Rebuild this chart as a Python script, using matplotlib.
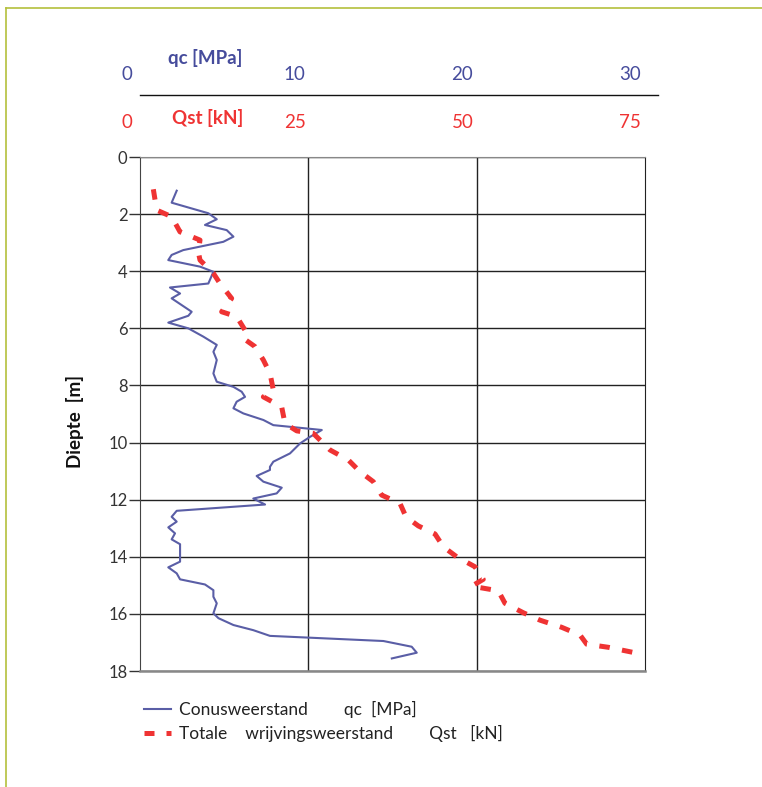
import numpy as np
import matplotlib
matplotlib.use('Agg')
import matplotlib.pyplot as plt
from matplotlib.lines import Line2D
from matplotlib.transforms import blended_transform_factory

plt.rcParams['font.family'] = ['Lato', 'DejaVu Sans']

# conusweerstand qc [MPa] vs diepte [m]
qc_values = [2.18, 1.88, 4.06, 4.56, 3.86, 5.15, 5.55, 4.95, 2.57, 1.88, 1.68, 3.57,
             4.36, 4.06, 1.78, 2.38, 1.88, 3.07, 2.87, 1.68, 2.87, 3.76, 4.56, 4.36,
             4.56, 4.36, 4.56, 5.55, 6.04, 6.24, 5.74, 5.55, 6.14, 7.33, 7.92, 10.80,
             10.10, 9.51, 8.91, 7.92, 7.72, 7.72, 6.93, 7.33, 8.42, 8.12, 6.73, 7.43,
             2.18, 1.88, 2.18, 1.68, 2.08, 1.88, 2.38, 2.38, 1.68, 2.18, 2.38, 3.86,
             4.36, 4.36, 4.56, 4.36, 4.66, 5.55, 6.73, 7.72, 14.46, 16.14, 16.44, 14.96]
qc_depth = [1.18, 1.60, 1.97, 2.18, 2.38, 2.56, 2.79, 2.97, 3.26, 3.43, 3.61, 3.84,
            4.02, 4.43, 4.57, 4.78, 4.95, 5.42, 5.56, 5.80, 6.00, 6.29, 6.58, 6.82,
            7.11, 7.58, 7.87, 8.05, 8.22, 8.40, 8.57, 8.80, 8.98, 9.21, 9.39, 9.56,
            9.80, 10.03, 10.38, 10.67, 10.85, 10.96, 11.17, 11.37, 11.58, 11.78, 11.96, 12.17,
            12.39, 12.60, 12.77, 12.97, 13.18, 13.39, 13.56, 14.17, 14.37, 14.58, 14.79, 14.97,
            15.17, 15.40, 15.63, 15.98, 16.15, 16.39, 16.57, 16.77, 16.95, 17.15, 17.36, 17.56]

# totale wrijvingsweerstand Qst [kN] vs diepte [m]
qst_values = [1.98, 2.48, 4.70, 5.94, 8.91, 8.66, 8.91, 10.89, 11.88, 13.61, 12.13, 14.36,
              15.59, 15.35, 17.08, 18.32, 19.31, 19.80, 18.32, 21.04, 21.53, 23.27, 25.74, 26.98,
              28.22, 30.94, 32.67, 34.65, 35.89, 38.61, 39.50, 41.34, 43.81, 45.05, 47.03, 49.75,
              50.98, 49.26, 53.21, 54.21, 56.93, 59.41, 62.63, 65.35, 66.34, 69.55, 73.27, 74.30]
qst_depth = [1.13, 1.86, 2.09, 2.62, 2.91, 3.32, 3.61, 4.07, 4.43, 4.95, 5.42, 5.59,
             6.06, 6.35, 6.64, 7.11, 7.58, 8.16, 8.40, 8.75, 9.33, 9.59, 9.68, 9.97,
             10.26, 10.61, 11.02, 11.37, 11.84, 12.13, 12.60, 12.92, 13.20, 13.65, 14.00, 14.35,
             14.79, 15.03, 15.19, 15.63, 15.96, 16.22, 16.47, 16.74, 17.06, 17.17, 17.35, 17.38]

qc_ticks = [0, 10, 20, 30]
qst_ticks = [0, 25, 50, 75]
depth_ticks = np.arange(0, 19, 2)

blue = '#5A5EA6'
blue_txt = '#464C9C'
red = '#EF3333'
W, H = 762, 787

fig = plt.figure(figsize=(W / 100, H / 100), dpi=100)
ax = fig.add_axes([140 / W, 1 - 671 / H, 505 / W, 514 / H])

ax.set_xlim(0, 30)
ax.set_ylim(18, 0)
ax.set_xticks([10, 20])
ax.set_yticks(depth_ticks)
ax.grid(True, color='#222222', lw=1.0)
ax.set_axisbelow(True)
ax.tick_params(axis='x', length=0, labelbottom=False)
ax.tick_params(axis='y', direction='out', length=8, width=1.0, pad=1,
               labelsize=12, labelcolor='#333333', color='#333333')
ax.spines['left'].set_color('#444444')
ax.spines['right'].set_color('#222222')
ax.spines['top'].set_color('#888888')
ax.spines['bottom'].set_color('#888888')
ax.spines['bottom'].set_linewidth(1.8)

ax.plot(qc_values, qc_depth, color=blue, lw=1.5)

ax2 = ax.twiny()
ax2.set_xlim(0, 75)
ax2.set_axis_off()
ax2.plot(qst_values, qst_depth, color=red, lw=3.6, ls=(0, (2.1, 2.5)))

# legend
handles = [Line2D([], [], color=blue, lw=1.5),
           Line2D([], [], color=red, lw=3.6, ls=(0, (2.0, 2.4)))]
labels = ['Conusweerstand        qc  [MPa]',
          'Totale    wrijvingsweerstand        Qst   [kN]']
fig.legend(handles, labels, loc='upper left', bbox_to_anchor=(128 / W, 1 - 685 / H),
           frameon=False, fontsize=12.5, handlelength=1.55, handletextpad=0.5,
           labelspacing=0.45, labelcolor='#222222')

# top scales
axt = fig.add_axes([127 / W, 1 - 96 / H, 503 / W, 0.001])
axt.set_xlim(0, 30)
axt.set_axis_off()
tr = blended_transform_factory(axt.transData, fig.transFigure)
for v in qc_ticks:
    axt.text(v, 1 - 74 / H, str(v), transform=tr, ha='center', va='center',
             color=blue_txt, fontsize=13.5)
for v, q in zip(qc_ticks, qst_ticks):
    axt.text(v, 1 - 122 / H, str(q), transform=tr, ha='center', va='center',
             color=red, fontsize=13.5)
fig.text(205 / W, 1 - 58 / H, 'qc [MPa]', color=blue_txt, fontsize=13.5,
         fontweight='bold', ha='center', va='center')
fig.text(208 / W, 1 - 118 / H, 'Qst [kN]', color=red, fontsize=13.5,
         fontweight='bold', ha='center', va='center')
fig.add_artist(Line2D([140 / W, 658 / W], [1 - 95 / H, 1 - 95 / H],
                      transform=fig.transFigure, color='#111111', lw=1.0))

fig.text(75 / W, 1 - 422 / H, 'Diepte  [m]', rotation=90, fontsize=13.5,
         fontweight='bold', ha='center', va='center', color='#111111')

# page frame
frame = '#B4C03C'
fig.add_artist(Line2D([6 / W, 6 / W], [0, 1 - 8 / H], transform=fig.transFigure,
                      color=frame, lw=1.2))
fig.add_artist(Line2D([6 / W, 1], [1 - 8 / H, 1 - 8 / H], transform=fig.transFigure,
                      color=frame, lw=1.2))

fig.savefig('out.png', dpi=100)
